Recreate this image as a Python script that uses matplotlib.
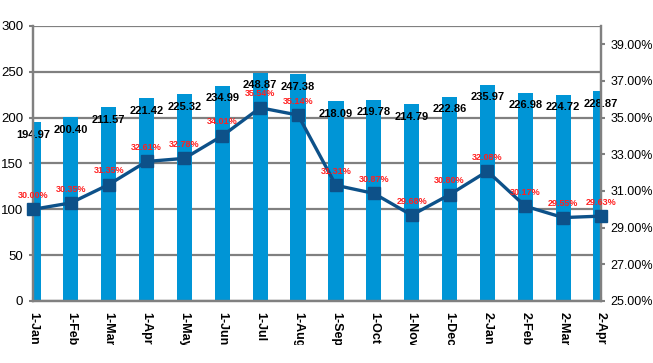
import matplotlib
matplotlib.use('Agg')
import matplotlib.pyplot as plt
from matplotlib.transforms import Bbox
import numpy as np

plt.rcParams['font.family'] = ['Liberation Sans', 'DejaVu Sans']

# categories (rotated labels are clipped at the chart edge in the original)
labels = ['1-Jan', '1-Feb', '1-Mar', '1-Apr', '1-May', '1-Jun', '1-Jul', '1-Aug',
          '1-Sep', '1-Oct', '1-Nov', '1-Dec', '2-Jan', '2-Feb', '2-Mar', '2-Apr']
bar_values = [194.97, 200.40, 211.57, 221.42, 225.32, 234.99, 248.87, 247.38,
              218.09, 219.78, 214.79, 222.86, 235.97, 226.98, 224.72, 228.87]
pct_values = [30.00, 30.35, 31.35, 32.61, 32.78, 34.01, 35.54, 35.14,
              31.31, 30.87, 29.68, 30.80, 32.08, 30.17, 29.55, 29.63]

bar_color = '#0095D6'
line_color = '#0D5189'
grid_gray = '#808080'

fig = plt.figure(figsize=(6.53, 3.63), dpi=100)
ax = fig.add_axes([0.0505, 0.1708, 0.8699, 0.7576])
x = np.arange(len(labels))

ax.bar(x, bar_values, width=0.4, color=bar_color, zorder=2)
ax.set_xlim(0, len(labels) - 1)
ax.set_ylim(0, 300)
ax.set_yticks(range(0, 301, 50))
ax.yaxis.grid(True, color=grid_gray, linewidth=1.6, zorder=0)
ax.set_axisbelow(True)
for s in ['left', 'bottom', 'right']:
    ax.spines[s].set_color(grid_gray)
    ax.spines[s].set_linewidth(1.6)
ax.spines['top'].set_visible(False)
ax.tick_params(axis='y', direction='out', length=3, width=1.5, color=grid_gray,
               labelsize=9.5, pad=4)
ax.tick_params(axis='x', direction='in', length=3, width=1.5, color=grid_gray,
               labelbottom=False)
ax.set_xticks(x)

for xi, v in zip(x, bar_values):
    ax.annotate(f'{v:.2f}', (xi, v), xytext=(0, -9), textcoords='offset points',
                ha='center', va='center', fontsize=8, fontweight='bold',
                color='black', zorder=5)

# clipped rotated category labels
clip = Bbox.from_extents(0, 363 - 345, 653, 363 - 305)
for xi, lab in zip(x, labels):
    t = ax.text(xi, -0.04, lab, transform=ax.get_xaxis_transform(),
                rotation=270, ha='center', va='top', fontsize=9,
                fontweight='bold', color='black')
    t.set_clip_box(clip)
    t.set_clip_on(True)

ax2 = ax.twinx()
ax2.plot(x, pct_values, color=line_color, linewidth=2.4, marker='s',
         markersize=8, clip_on=False, zorder=4)
ax2.set_ylim(25, 40)
ax2.set_yticks(np.arange(25, 40, 2))
ax2.set_yticklabels([f'{v:.2f}%' for v in np.arange(25, 40, 2)])
ax2.tick_params(axis='y', direction='out', length=3, width=1.5, color=grid_gray,
                labelsize=9, pad=4)
for s in ['left', 'bottom', 'right']:
    ax2.spines[s].set_color(grid_gray)
    ax2.spines[s].set_linewidth(1.6)
ax2.spines['top'].set_visible(False)

for xi, v in zip(x, pct_values):
    ax2.annotate(f'{v:.2f}%', (xi, v), xytext=(0, 10), textcoords='offset points',
                 ha='center', va='center', fontsize=6.5, fontweight='bold',
                 color='#FF2020', zorder=6)

fig.savefig('out.png', dpi=100)
